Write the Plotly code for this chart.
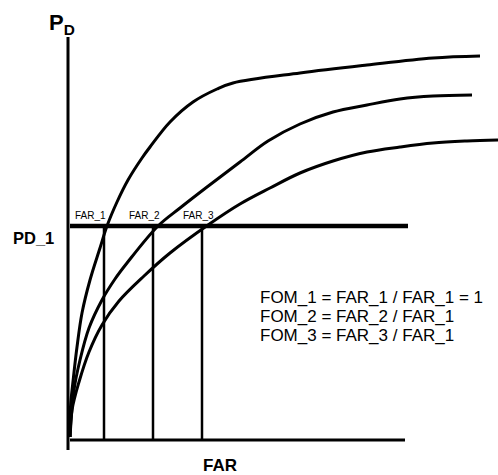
import plotly.graph_objects as go

# Curves (FAR, PD) (schematic units)
curve1_far = [0, 0.5, 3.5, 7, 12, 20, 30, 37, 47, 58, 72, 80, 100, 123, 147, 163, 230, 297, 363, 410]
curve1_pd = [3, 33, 63, 93, 127, 160, 192, 214, 238, 260, 282, 293, 318, 338, 351, 357, 367, 375, 382, 384]

curve2_far = [0, 4, 10, 19, 32, 45, 57, 88, 110, 137, 170, 198, 230, 263, 297, 330, 363, 402]
curve2_pd = [3, 50, 80, 112, 140, 161, 177, 214, 232, 253, 278, 299, 316, 328, 335, 341, 344, 345]

curve3_far = [0, 2, 9, 19, 32, 49, 74, 100, 138, 170, 200, 230, 263, 297, 330, 363, 397, 428]
curve3_pd = [3, 30, 58, 88, 115, 139, 164, 187, 215, 236, 252, 267, 279, 288, 293, 297, 299, 300]

# Reference level and FAR thresholds
pd_1 = 214
far_levels = [34, 83, 132]
far_names = ["FAR_1", "FAR_2", "FAR_3"]
fom_lines = ["FOM_1 = FAR_1 / FAR_1 = 1", "FOM_2 = FAR_2 / FAR_1", "FOM_3 = FAR_3 / FAR_1"]
axis_far_max = 335
level_far_max = 338
axis_pd_min = -10
axis_pd_max = 403

FONT = "Liberation Sans, Arial, Helvetica, sans-serif"
fig = go.Figure()

def line(x, y, w, shape="linear"):
    fig.add_trace(go.Scatter(x=x, y=y, mode="lines",
                             line=dict(color="black", width=w, shape=shape, smoothing=1.0),
                             hoverinfo="skip", showlegend=False))

# axes
line([-2, -2], [axis_pd_min, axis_pd_max], 3)
line([0, axis_far_max], [0, 0], 3)
# PD_1 level
line([0, level_far_max], [pd_1, pd_1], 4.5)
# verticals
for f in far_levels:
    line([f, f], [0, pd_1], 2.5)
# curves
line(curve1_far, curve1_pd, 3, "spline")
line(curve2_far, curve2_pd, 3, "spline")
line(curve3_far, curve3_pd, 3, "spline")

ann = []
ann.append(dict(x=-8, y=416, text="<b>P<sub>D</sub></b>", font=dict(size=22, family=FONT, color="black")))
ann.append(dict(x=-37, y=202, text="<b>PD_1</b>", font=dict(size=16.5, family=FONT, color="black")))
ann.append(dict(x=150, y=-25, text="<b>FAR</b>", font=dict(size=17, family=FONT, color="black")))
for f, n, dx in zip(far_levels, far_names, [-14, -9, -4]):
    ann.append(dict(x=f + dx, y=225, text=n, font=dict(size=10, family=FONT, color="black")))
for i, t in enumerate(fom_lines):
    ann.append(dict(x=188, y=143 - 19 * i, text=t, xanchor="left",
                    font=dict(size=17, family=FONT, color="black")))
for a in ann:
    a.setdefault("xanchor", "center")
    a.update(showarrow=False, yanchor="middle", xref="x", yref="y")

fig.update_layout(
    width=498, height=475, margin=dict(l=0, r=0, t=0, b=0),
    paper_bgcolor="white", plot_bgcolor="white",
    xaxis=dict(range=[-70, 428], visible=False, fixedrange=True),
    yaxis=dict(range=[-35, 440], visible=False, fixedrange=True),
    annotations=ann, showlegend=False,
)
fig.write_html("out.html", config=dict(displayModeBar=False),
               post_script="document.body.style.margin='0px';document.body.style.overflow='hidden';")
